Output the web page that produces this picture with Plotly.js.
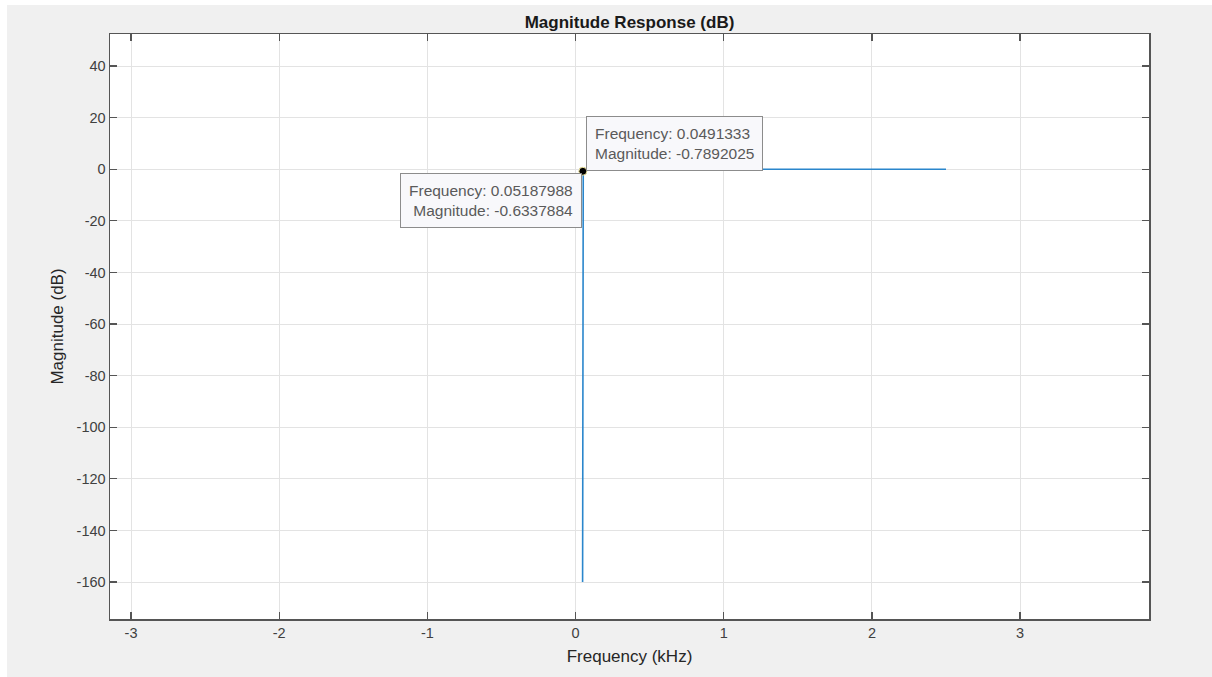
<!DOCTYPE html>
<html>
<head>
<meta charset="utf-8">
<script src="https://cdn.plot.ly/plotly-3.0.1.min.js"></script>
<style>
  html, body { margin: 0; padding: 0; background: #ffffff; width: 1212px; height: 677px; overflow: hidden; }
  #chart { position: absolute; left: 7px; top: 5px; width: 1205px; height: 672px; }
</style>
</head>
<body>
<div id="chart"></div>
<script>
// Magnitude response data (kHz, dB)
const frequency = [0.0475, 0.048, 0.0485, 0.049, 0.0491333, 0.05187988, 0.06, 0.1, 0.25, 0.5, 1.0, 1.5, 2.0, 2.5];
const magnitude = [-160, -120, -95, -50, -0.7892025, -0.6337884, -0.3, -0.05, 0, 0, 0, 0, 0, 0];

// Data tips
const tipFrequency = [0.0491333, 0.05187988];
const tipMagnitude = [-0.7892025, -0.6337884];
const tipFreqLabels = ["0.0491333", "0.05187988"];
const tipMagLabels = ["-0.7892025", "-0.6337884"];

const xTicks = [-3, -2, -1, 0, 1, 2, 3];
const yTicks = [40, 20, 0, -20, -40, -60, -80, -100, -120, -140, -160];

const fontFam = "'Liberation Sans', Arial, Helvetica, sans-serif";
const axisColor = '#555555';

const traces = [
  {
    x: frequency, y: magnitude, type: 'scatter', mode: 'lines',
    line: { color: '#2a86cc', width: 1.6 }, hoverinfo: 'skip', showlegend: false
  },
  {
    x: [tipFrequency[0]], y: [tipMagnitude[0]], type: 'scatter', mode: 'markers',
    marker: { color: '#000000', size: 8, line: { color: '#f5eaa0', width: 1 } },
    hoverinfo: 'skip', showlegend: false
  }
];

const tipStyle = {
  showarrow: false, xref: 'x', yref: 'y',
  bgcolor: '#f8f8fb', bordercolor: '#8c8c8c', borderwidth: 1, borderpad: 8,
  font: { family: fontFam, size: 15.5, color: '#5a5a5a' }
};

const annotations = [
  Object.assign({}, tipStyle, {
    x: tipFrequency[0], y: tipMagnitude[0],
    text: 'Frequency: ' + tipFreqLabels[0] + '<br>Magnitude: ' + tipMagLabels[0],
    xanchor: 'left', yanchor: 'bottom', align: 'left', xshift: 3, yshift: 0
  }),
  Object.assign({}, tipStyle, {
    x: tipFrequency[1], y: tipMagnitude[1],
    text: 'Frequency: ' + tipFreqLabels[1] + '<br>Magnitude: ' + tipMagLabels[1],
    xanchor: 'right', yanchor: 'top', align: 'right', xshift: -1, yshift: -2
  })
];

const layout = {
  width: 1205, height: 672,
  paper_bgcolor: '#f0f0f0', plot_bgcolor: '#ffffff',
  margin: { l: 103, r: 63, t: 29, b: 58 },
  font: { family: fontFam, color: '#404040', size: 14 },
  title: {
    text: '<b>Magnitude Response (dB)</b>',
    font: { family: fontFam, size: 17, color: '#1a1a1a' },
    x: 0.5, xref: 'paper', y: 1, yref: 'paper', yanchor: 'bottom', pad: { b: 6 }
  },
  xaxis: {
    range: [-3.142, 3.870], tickvals: xTicks, ticktext: xTicks.map(String),
    showline: true, mirror: 'ticks', linecolor: axisColor, linewidth: 1.5,
    ticks: 'inside', ticklen: 7, tickwidth: 1.2, tickcolor: axisColor,
    showgrid: true, gridcolor: '#e3e3e3', gridwidth: 1, zeroline: false,
    tickfont: { family: fontFam, size: 14.5, color: '#404040' },
    title: { text: 'Frequency (kHz)', font: { family: fontFam, size: 17, color: '#262626' }, standoff: 10 },
    fixedrange: true
  },
  yaxis: {
    range: [-174.3, 52.4], tickvals: yTicks, ticktext: yTicks.map(String),
    showline: true, mirror: 'ticks', linecolor: axisColor, linewidth: 1.5,
    ticks: 'inside', ticklen: 7, tickwidth: 1.2, tickcolor: axisColor,
    showgrid: true, gridcolor: '#e3e3e3', gridwidth: 1, zeroline: false,
    tickfont: { family: fontFam, size: 14.5, color: '#404040' },
    title: { text: 'Magnitude (dB)', font: { family: fontFam, size: 17, color: '#262626' }, standoff: 8 },
    fixedrange: true
  },
  annotations: annotations,
  showlegend: false
};

Plotly.newPlot('chart', traces, layout, { staticPlot: true, displayModeBar: false });
</script>
</body>
</html>
